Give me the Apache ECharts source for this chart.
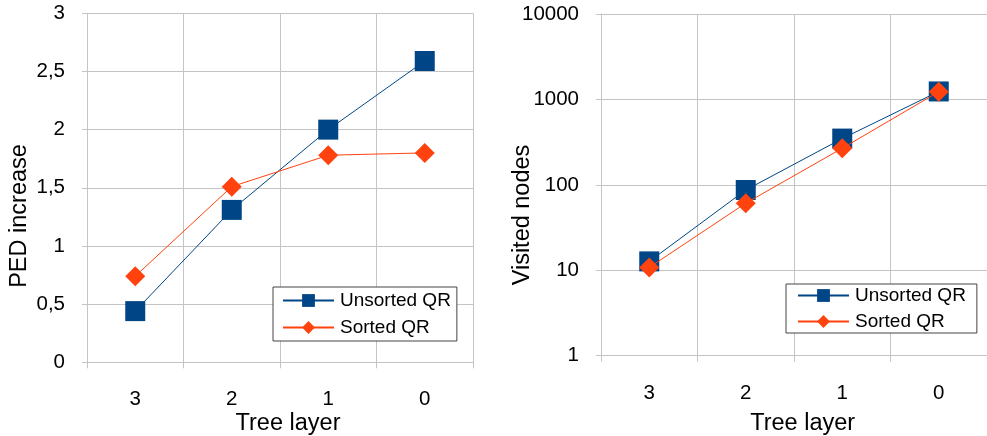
<!DOCTYPE html>
<html>
<head>
<meta charset="utf-8">
<script src="https://cdn.jsdelivr.net/npm/echarts@6/dist/echarts.min.js"></script>
<style>
  html, body { margin: 0; padding: 0; background: #fff; }
  #chart { width: 987px; height: 436px; }
</style>
</head>
<body>
<div id="chart"></div>
<script>
// Tree layers on the x axis (same for both panels)
const layers = ['3', '2', '1', '0'];

// Left panel: PED increase per layer
const pedUnsorted = [0.44, 1.31, 2.0, 2.59];
const pedSorted = [0.74, 1.51, 1.78, 1.80];
const pedTicks = [0, 0.5, 1, 1.5, 2, 2.5, 3];

// Right panel: visited nodes per layer (log scale)
const visitedUnsorted = [12.7, 87, 348, 1240];
const visitedSorted = [10.8, 61, 268, 1230];
const visitedTicks = [1, 10, 100, 1000, 10000];

const seriesNames = ['Unsorted QR', 'Sorted QR'];
const BLUE = '#004586';
const ORANGE = '#ff420e';
const GRID = '#c4c4c4';
const FONT = 'Liberation Sans, Arial, sans-serif';

const chart = echarts.init(document.getElementById('chart'), null, { renderer: 'canvas' });

function xAxisFor(gridIndex) {
  return {
    type: 'category',
    gridIndex: gridIndex,
    data: layers,
    boundaryGap: true,
    axisLine: { show: true, lineStyle: { color: GRID, width: 1 } },
    axisTick: { show: true, length: 6, alignWithLabel: false, lineStyle: { color: GRID } },
    axisLabel: { color: '#000', fontSize: 20.5, fontFamily: FONT, margin: 27 },
    splitLine: { show: true, lineStyle: { color: GRID, width: 1 } }
  };
}

function lineSeries(name, data, color, symbol, size, xi, yi, z) {
  return {
    name: name,
    type: 'line',
    xAxisIndex: xi,
    yAxisIndex: yi,
    data: data,
    symbol: symbol,
    symbolSize: size,
    showSymbol: true,
    lineStyle: { color: color, width: 1 },
    itemStyle: { color: color },
    z: z,
    animation: false
  };
}

function legendFor(pos, pad, gap) {
  return {
    data: seriesNames,
    orient: 'vertical',
    left: pos.left,
    top: pos.top,
    itemWidth: 51,
    itemHeight: 16,
    itemGap: gap,
    padding: pad,
    borderColor: '#444',
    borderWidth: 1,
    backgroundColor: '#fff',
    selectedMode: false,
    textStyle: { color: '#000', fontSize: 19, fontFamily: FONT, padding: [0, 0, 0, 1] }
  };
}

const titleStyle = { fill: '#000', fontSize: 23.5, fontFamily: FONT, textAlign: 'center', textVerticalAlign: 'middle' };

chart.setOption({
  animation: false,
  backgroundColor: '#fff',
  grid: [
    { left: 87, top: 13.3, width: 386, height: 349, containLabel: false },
    { left: 601, top: 14, width: 386, height: 341.7, containLabel: false }
  ],
  xAxis: [xAxisFor(0), xAxisFor(1)],
  yAxis: [
    {
      type: 'value',
      gridIndex: 0,
      min: pedTicks[0],
      max: pedTicks[pedTicks.length - 1],
      interval: 0.5,
      axisLine: { show: true, lineStyle: { color: GRID } },
      axisTick: { show: true, length: 5, lineStyle: { color: GRID } },
      axisLabel: {
        color: '#000', fontSize: 20.5, fontFamily: FONT, margin: 22,
        formatter: v => String(v).replace('.', ',')
      },
      splitLine: { show: true, lineStyle: { color: GRID } }
    },
    {
      type: 'log',
      logBase: 10,
      gridIndex: 1,
      min: visitedTicks[0],
      max: visitedTicks[visitedTicks.length - 1],
      axisLine: { show: true, lineStyle: { color: GRID } },
      axisTick: { show: true, length: 5, lineStyle: { color: GRID } },
      axisLabel: { color: '#000', fontSize: 20.5, fontFamily: FONT, margin: 22, formatter: v => String(Math.round(v)) },
      splitLine: { show: true, lineStyle: { color: GRID } },
      minorTick: { show: false },
      minorSplitLine: { show: false }
    }
  ],
  legend: [
    legendFor({ left: 273, top: 287 }, [4, 6, 4, 9], 8),
    legendFor({ left: 786, top: 284 }, [2, 11, 2, 11], 7)
  ],
  series: [
    lineSeries(seriesNames[0], pedUnsorted, BLUE, 'rect', 20, 0, 0, 2),
    lineSeries(seriesNames[1], pedSorted, ORANGE, 'diamond', 20, 0, 0, 3),
    lineSeries(seriesNames[0], visitedUnsorted, BLUE, 'rect', 20, 1, 1, 2),
    lineSeries(seriesNames[1], visitedSorted, ORANGE, 'diamond', 20, 1, 1, 3)
  ],
  graphic: [
    { type: 'text', x: 19.5, y: 216, rotation: Math.PI / 2, style: Object.assign({ text: 'PED increase' }, titleStyle) },
    { type: 'text', x: 522.5, y: 215, rotation: Math.PI / 2, style: Object.assign({ text: 'Visited nodes' }, titleStyle) },
    { type: 'text', x: 288, y: 423.5, style: Object.assign({ text: 'Tree layer' }, titleStyle) },
    { type: 'text', x: 802.7, y: 423.5, style: Object.assign({ text: 'Tree layer' }, titleStyle) }
  ]
});
</script>
</body>
</html>
